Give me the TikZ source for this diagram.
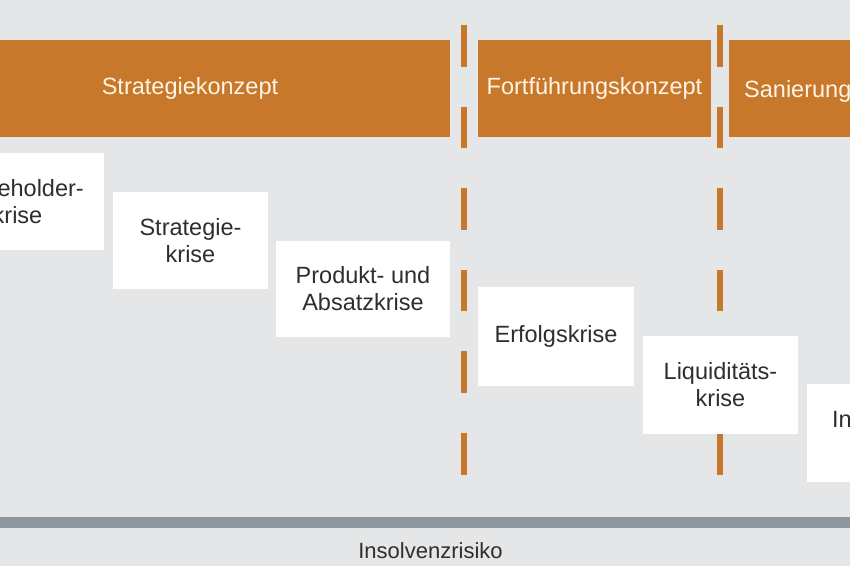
\documentclass[tikz,border=0pt]{standalone}
\usepackage{fontspec}
\setmainfont{Liberation Sans}
\definecolor{bgc}{HTML}{E5E6E8}
\definecolor{orangec}{HTML}{C8782B}
\definecolor{bartextc}{HTML}{FFF4E6}
\definecolor{boxtextc}{HTML}{2E2E2E}
\definecolor{axisc}{HTML}{8D989E}
\begin{document}
\begin{tikzpicture}[x=1pt,y=-1pt,
  bar/.style={fill=orangec, draw=none, inner sep=0pt, text=bartextc,
    font=\fontsize{23.5}{27}\selectfont},
  bartext/.style={inner sep=0pt, text=bartextc, font=\fontsize{23.5}{27}\selectfont},
  kbox/.style={fill=white, draw=none, inner sep=0pt, align=center, text=boxtextc,
    font=\fontsize{23.5}{27}\selectfont},
  ktext/.style={inner sep=0pt, text=boxtextc, font=\fontsize{23.5}{27}\selectfont},
  sepline/.style={draw=orangec, line width=6pt, dash pattern=on 41.6pt off 40pt},
  axisbar/.style={fill=axisc, draw=none, inner sep=0pt},
  axislabel/.style={inner sep=0pt, text=boxtextc, font=\fontsize{22}{26}\selectfont}
]
\useasboundingbox (0,0) rectangle (850,566);
\clip (0,0) rectangle (850,566);
\fill[bgc] (0,0) rectangle (850,566);

% concept bars
\node[bar, minimum width=520pt, minimum height=97pt] (bar1) at (190,88.5) {Strategiekonzept};
\node[bar, minimum width=233pt, minimum height=97pt] (bar2) at (594.5,88.5) {Fortführungskonzept};
\node[bar, minimum width=200pt, minimum height=97pt, anchor=west] (bar3) at (729,88.5) {};
\node[bartext, anchor=base west] (bar3t) at (744,97) {Sanierung};

% separators
\coordinate (s1a) at (464,25);
\coordinate (s1b) at (464,474.6);
\coordinate (s2a) at (720,25);
\coordinate (s2b) at (720,474.6);
\draw[sepline] (s1a) -- (s1b);
\draw[sepline] (s2a) -- (s2b);

% crisis boxes
\node[kbox, minimum width=155pt, minimum height=97pt] (sh) at (26.5,201.5) {};
\node[ktext, anchor=base east] (sht1) at (84,196) {eholder-};
\node[ktext, anchor=base] (sht2) at (17.5,223) {krise};
\node[kbox, minimum width=155pt, minimum height=97pt] (st) at (190.5,240.5) {Strategie-\\krise};
\node[kbox, minimum width=174pt, minimum height=96pt] (pa) at (363,289) {Produkt- und\\Absatzkrise};
\node[kbox, minimum width=156pt, minimum height=99pt] (ek) at (556,336.5) {Erfolgskrise};
\node[kbox, minimum width=155pt, minimum height=98pt] (lq) at (720.5,385) {Liquiditäts-\\krise};
\node[kbox, minimum width=155pt, minimum height=98pt] (ins) at (884.5,433) {};
\node[ktext, anchor=base west] (inst) at (832,427) {In};

% axis
\node[axisbar, minimum width=850pt, minimum height=11pt] (axis) at (425,522.5) {};
\node[axislabel] (risk) at (430.5,551) {Insolvenzrisiko};
\end{tikzpicture}
\end{document}
